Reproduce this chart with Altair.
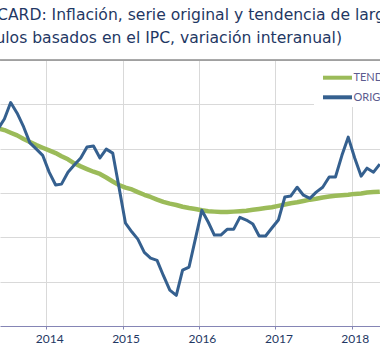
import altair as alt
import pandas as pd

# Monthly observations (mid-month), May 2013 - May 2018
months = [d.strftime("%Y-%m-%d") for d in pd.date_range("2013-05-15", periods=61, freq=pd.DateOffset(months=1))]

original = [4.44, 4.67, 5.04, 4.80, 4.49, 4.13, 3.99, 3.85,
            3.47, 3.18, 3.20, 3.47, 3.63, 3.79, 4.04, 4.06, 3.79, 3.99, 3.90, 3.13,
            2.32, 2.12, 1.96, 1.66, 1.53, 1.48, 1.14, 0.81, 0.69, 1.26, 1.33, 1.96,
            2.61, 2.34, 2.05, 2.05, 2.18, 2.18, 2.45, 2.39, 2.30, 2.03, 2.03, 2.21,
            2.39, 2.91, 2.93, 3.13, 2.95, 2.88, 3.02, 3.13, 3.36, 3.36, 3.85, 4.26,
            3.79, 3.38, 3.56, 3.47, 3.65]

tendencia = [4.46, 4.42, 4.36, 4.30, 4.22, 4.15, 4.08, 4.02,
             3.96, 3.90, 3.83, 3.76, 3.67, 3.60, 3.54, 3.48, 3.43, 3.35, 3.26, 3.18,
             3.12, 3.08, 3.02, 2.96, 2.91, 2.85, 2.80, 2.76, 2.73, 2.69, 2.66, 2.64,
             2.61, 2.59, 2.58, 2.57, 2.57, 2.58, 2.59, 2.60, 2.62, 2.64, 2.66, 2.68,
             2.71, 2.74, 2.77, 2.79, 2.82, 2.85, 2.87, 2.90, 2.92, 2.94, 2.95, 2.96,
             2.98, 2.99, 3.01, 3.02, 3.03]

series_names = ["TENDENCIA", "ORIGINAL"]
series_colors = ["#9bbb59", "#35608f"]
years = [2014, 2015, 2016, 2017, 2018]
title_line1 = "CARD: Inflación, serie original y tendencia de largo plazo"
title_line2 = "(Cálculos basados en el IPC, variación interanual)"

df = pd.DataFrame({
    "fecha": months * 2,
    "valor": tendencia + original,
    "serie": ["TENDENCIA"] * len(months) + ["ORIGINAL"] * len(months),
})

color_scale = alt.Scale(domain=series_names, range=series_colors)

x_enc = alt.X(
    "fecha:T",
    scale=alt.Scale(type="utc",
                    domain=[alt.DateTime(year=2013, month=5, date=25, utc=True),
                            alt.DateTime(year=2018, month=5, date=16, utc=True)]),
    axis=alt.Axis(values=[alt.DateTime(year=y, month=1, date=1, utc=True) for y in years],
                  format="%Y", title=None, grid=True, gridColor="#d9d9d9", gridWidth=1,
                  domainColor="#8585b5", domainWidth=1, tickColor="#8585b5", tickSize=3,
                  labelFont="Lato", labelFontSize=12, labelColor="#1f3864",
                  labelPadding=4, labelOffset=3, labelFlush=False, labelOverlap=False),
)
y_enc = alt.Y(
    "valor:Q",
    scale=alt.Scale(domain=[0, 6], nice=False, zero=False),
    axis=alt.Axis(values=[1, 2, 3, 4, 5, 6], labels=False, ticks=False, domain=False,
                  grid=True, gridColor="#d9d9d9", gridWidth=1, title=None),
)

base = alt.Chart(df)
trend_line = base.transform_filter(alt.datum.serie == "TENDENCIA").mark_line(
    strokeWidth=4.5, strokeJoin="round", clip=True
).encode(x=x_enc, y=y_enc, color=alt.Color("serie:N", scale=color_scale, legend=None))
orig_line = base.transform_filter(alt.datum.serie == "ORIGINAL").mark_line(
    strokeWidth=3, strokeJoin="round", clip=True
).encode(x="fecha:T", y="valor:Q", color=alt.Color("serie:N", scale=color_scale, legend=None))

legend_df = pd.DataFrame({"serie": series_names})
legend_bg = alt.Chart(legend_df).mark_rect(fill="white").encode(
    x=alt.value(314), x2=alt.value(384), y=alt.value(1), y2=alt.value(47))

def legend_item(name, ypos):
    src = alt.Chart(legend_df).transform_filter(alt.datum.serie == name)
    sym = src.mark_rule(strokeWidth=4).encode(
        x=alt.value(323), x2=alt.value(352), y=alt.value(ypos),
        color=alt.Color("serie:N", scale=color_scale, legend=None))
    lab = src.mark_text(align="left", baseline="middle", font="Lato", fontSize=11,
                        color="#5b5b8f").encode(
        x=alt.value(353.5), y=alt.value(ypos + 0.5), text="serie:N")
    return sym + lab

top_rule = alt.Chart(pd.DataFrame({"v": [6]})).mark_rule(color="#8c8c8c", strokeWidth=1.3).encode(
    y=alt.Y("v:Q"))

title_df = pd.DataFrame({"l1": [title_line1], "l2": [title_line2]})
t1 = alt.Chart(title_df).mark_text(align="left", baseline="alphabetic", font="DejaVu Sans",
                                   fontSize=15.6, color="#1f3864").encode(
    x=alt.value(-3), y=alt.value(-40), text="l1:N")
t2 = alt.Chart(title_df).mark_text(align="right", baseline="alphabetic", font="DejaVu Sans",
                                   fontSize=15.6, color="#1f3864").encode(
    x=alt.value(342), y=alt.value(-17), text="l2:N")

chart = alt.layer(
    trend_line, orig_line, legend_bg,
    legend_item("TENDENCIA", 17.7), legend_item("ORIGINAL", 37.3),
    top_rule, t1, t2,
).properties(
    width=380, height=266,
    padding={"left": 0, "top": 60, "right": 0, "bottom": 27},
    autosize=alt.AutoSizeParams(type="none"),
).configure_view(stroke=None)

chart.save("out.html", embed_options={"renderer": "svg", "actions": False})
